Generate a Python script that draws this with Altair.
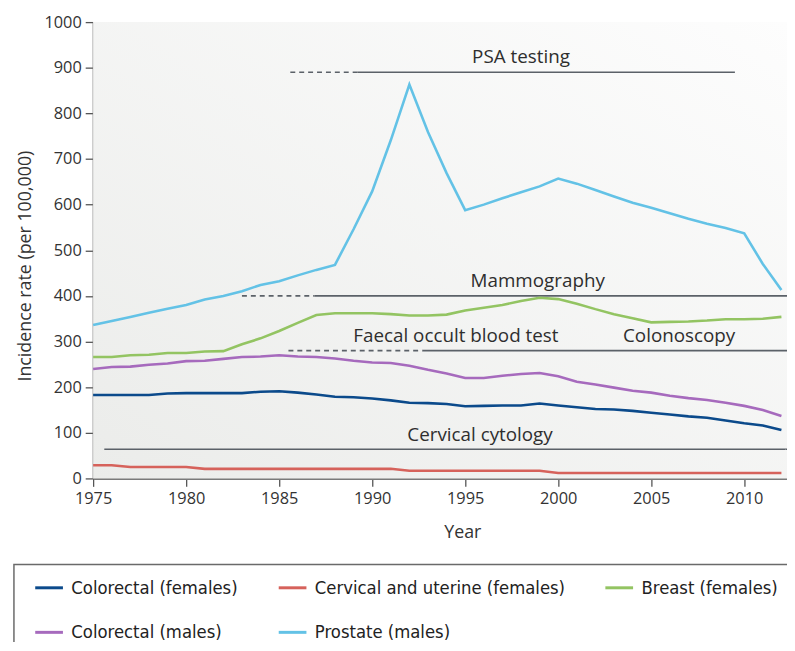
import altair as alt
import pandas as pd

# ---------------- data ----------------
years = list(range(1975, 2013))

colorectal_f = [183, 183, 183, 183, 186, 187, 187, 187, 187, 190,
                191, 188, 184, 179, 178, 175, 171, 166, 165, 163,
                158, 159, 160, 160, 164, 160, 156, 152, 151, 148,
                144, 140, 136, 133, 127, 121, 116, 106]
cervical_f = [29, 29, 25, 25, 25, 25, 21, 21, 21, 21,
              21, 21, 21, 21, 21, 21, 21, 17, 17, 17,
              17, 17, 17, 17, 17, 12, 12, 12, 12, 12,
              12, 12, 12, 12, 12, 12, 12, 12]
breast_f = [266, 266, 270, 271, 275, 275, 278, 279, 294, 307,
            323, 341, 358, 362, 362, 362, 360, 357, 357, 359,
            368, 374, 380, 389, 396, 393, 383, 371, 360, 351,
            342, 343, 344, 346, 349, 349, 350, 354]
colorectal_m = [240, 244, 245, 249, 252, 257, 258, 262, 266, 267,
                270, 267, 266, 263, 258, 254, 253, 247, 238, 230,
                220, 220, 225, 229, 231, 224, 212, 206, 199, 192,
                188, 181, 176, 172, 166, 159, 150, 137]
prostate_m = [336, 345, 354, 363, 372, 380, 392, 400, 410, 424,
              432, 445, 457, 468, 546, 629, 741, 863, 759, 669,
              588, 600, 614, 627, 640, 657, 646, 632, 618, 604,
              593, 581, 569, 558, 549, 537, 470, 413]

series_names = ["Colorectal (females)", "Cervical and uterine (females)",
                "Breast (females)", "Colorectal (males)", "Prostate (males)"]
series_values = [colorectal_f, cervical_f, breast_f, colorectal_m, prostate_m]
series_colors = ["#0b4a8b", "#d6625b", "#93c462", "#a66abd", "#63c2e6"]

# screening programme annotations
screen_labels = ["PSA testing", "Mammography", "Faecal occult blood test",
                 "Colonoscopy", "Cervical cytology"]
screen_label_x = [1998.0, 1998.9, 1994.5, 2006.5, 1995.8]
screen_label_y = [910, 419, 299, 299, 82]

seg_start = [1985.6, 1989.2, 1983.0, 1986.9, 1985.5, 1992.7, 1975.6]
seg_end = [1989.2, 2009.5, 1986.9, 2012.3, 1992.7, 2012.3, 2012.3]
seg_level = [890, 890, 400, 400, 280, 280, 64]
seg_style = ["dashed", "solid", "dashed", "solid", "dashed", "solid", "solid"]

x_ticks = [1975, 1980, 1985, 1990, 1995, 2000, 2005, 2010]
y_ticks = [0, 100, 200, 300, 400, 500, 600, 700, 800, 900, 1000]

# ---------------- tables ----------------
rows = []
for name, vals in zip(series_names, series_values):
    for yr, v in zip(years, vals):
        rows.append({"year": yr, "rate": v, "series": name})
df = pd.DataFrame(rows)

seg_df = pd.DataFrame({"x0": seg_start, "x1": seg_end, "level": seg_level, "style": seg_style})
lab_df = pd.DataFrame({"label": screen_labels, "lx": screen_label_x, "ly": screen_label_y})

W, H = 701, 461
FONT = "Open Sans"
xscale = alt.Scale(domain=[1975, 2012.3], nice=False, zero=False)
yscale = alt.Scale(domain=[0, 1000], nice=False)

x_axis = alt.Axis(values=x_ticks, format="d", title="Year", labelFlush=False,
                  titleX=373, titleY=60, titleAlign="center", titleBaseline="alphabetic")
y_axis = alt.Axis(values=y_ticks, format="d", title="Incidence rate (per 100,000)",
                  titleX=-63, titleY=246, titleAngle=270, titleAlign="center",
                  titleBaseline="alphabetic")

bg = alt.Chart(pd.DataFrame({"a": [0]})).mark_rect(
    fill=alt.Gradient(
        gradient="linear",
        stops=[alt.GradientStop(color="#ebecea", offset=0),
               alt.GradientStop(color="#fdfdfd", offset=1)],
        x1=0, y1=1, x2=1, y2=0,
    )
).encode(x=alt.value(0), x2=alt.value(W), y=alt.value(0), y2=alt.value(H))

# frame behind the legend (extends past the right and bottom edges, as in the reference)
legend_box = alt.Chart(pd.DataFrame({"a": [0]})).mark_rect(
    fill="white", stroke="#6a6a6a", strokeWidth=1.5
).encode(x=alt.value(-80), x2=alt.value(W + 30), y=alt.value(548), y2=alt.value(H + 250))

rules = alt.Chart(seg_df).mark_rule(color="#5b6168", strokeWidth=1.6).encode(
    x=alt.X("x0:Q", scale=xscale, title="Year"),
    x2="x1:Q",
    y=alt.Y("level:Q", scale=yscale, title="Incidence rate (per 100,000)"),
    strokeDash=alt.StrokeDash("style:N",
                              scale=alt.Scale(domain=["dashed", "solid"], range=[[5, 4], [1, 0]]),
                              legend=None),
)

labels = alt.Chart(lab_df).mark_text(
    font=FONT, fontSize=19, color="#2e2e2e", align="center", baseline="alphabetic"
).encode(
    x=alt.X("lx:Q", scale=xscale, title="Year"),
    y=alt.Y("ly:Q", scale=yscale, title="Incidence rate (per 100,000)"),
    text="label:N",
)

lines = alt.Chart(df).mark_line(strokeWidth=2.6).encode(
    x=alt.X("year:Q", scale=xscale, axis=x_axis),
    y=alt.Y("rate:Q", scale=yscale, axis=y_axis),
    color=alt.Color(
        "series:N",
        scale=alt.Scale(domain=series_names, range=series_colors),
        sort=series_names,
        legend=alt.Legend(
            title=None, orient="none", legendX=-60, legendY=556,
            columns=3, direction="horizontal",
            symbolType="stroke", symbolSize=784, symbolStrokeWidth=3,
            labelFont="DejaVu Sans Condensed", labelFontSize=18.5, labelColor="#222",
            labelOffset=7, labelLimit=500, columnPadding=34, rowPadding=20,
            padding=0,
        ),
    ),
)

chart = alt.layer(bg, legend_box, rules, labels, lines).properties(
    width=W, height=H,
    autosize=alt.AutoSizeParams(type="none"),
    padding={"left": 86, "top": 11, "right": 0, "bottom": 162},
).configure_view(stroke=None).configure_axis(
    grid=False, domainColor="#7a7a7a", domainWidth=2, tickColor="#555",
    tickSize=8, tickWidth=1.3, labelFont=FONT, labelFontSize=16.5, labelColor="#333",
    labelPadding=4, titleFont=FONT, titleFontSize=18, titleColor="#333",
    titleFontWeight="normal",
)

chart.save("out.html", embed_options={"renderer": "svg", "actions": False})
